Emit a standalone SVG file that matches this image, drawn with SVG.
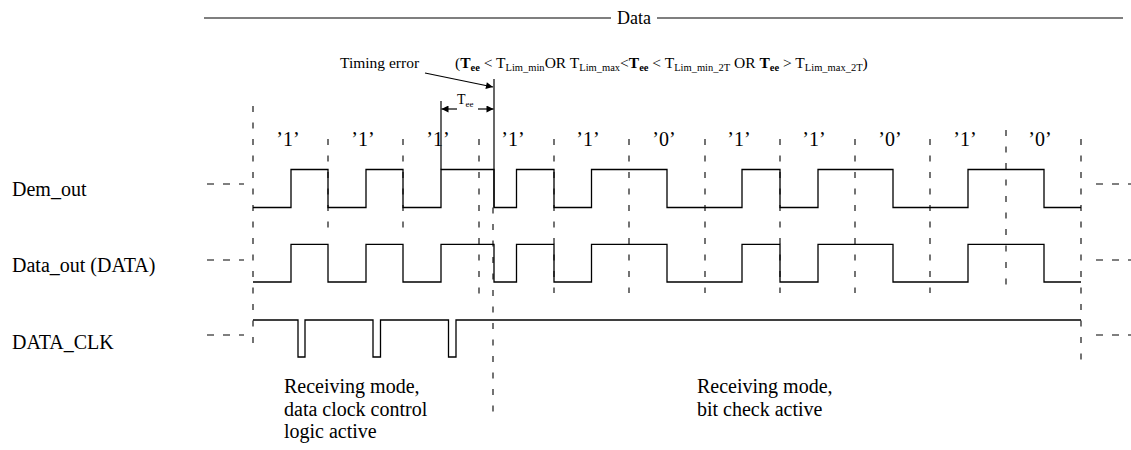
<svg xmlns="http://www.w3.org/2000/svg" width="1131" height="450" viewBox="0 0 1131 450">
<style>
text{font-family:"Liberation Serif","Times New Roman",serif;fill:#000}
.lbl{font-size:20px}
.bit{font-size:20px;text-anchor:middle}
.sm{font-size:15.5px}
.sub{font-size:10.5px}
.wave{fill:none;stroke:#000;stroke-width:1.3}
.solid{fill:none;stroke:#000;stroke-width:1.2}
.vdash{fill:none;stroke:#000;stroke-width:1.1;stroke-dasharray:6 10.5}
.hdash{fill:none;stroke:#000;stroke-width:1.1;stroke-dasharray:7 9}
</style>
<defs>
<marker id="ah" viewBox="0 0 10 10" refX="10" refY="5" markerWidth="9" markerHeight="7" markerUnits="userSpaceOnUse" orient="auto">
<path d="M0,0 L10,5 L0,10 z" fill="#000"/>
</marker>
</defs>
<rect width="1131" height="450" fill="#fff"/>

<g id="data-header">
<line class="solid" x1="204" y1="18" x2="611" y2="18"/>
<text x="634" y="24" text-anchor="middle" style="font-size:18px">Data</text>
<line class="solid" x1="657" y1="18" x2="1123" y2="18"/>
</g>

<g id="timing-error-label">
<text class="sm" x="340" y="68">Timing error</text>
<text class="sm" x="455" y="68">(<tspan font-weight="bold">T</tspan><tspan class="sub" font-weight="bold" dy="3">ee</tspan><tspan dy="-3"> &lt; T</tspan><tspan class="sub" dy="3">Lim_min</tspan><tspan dy="-3">OR T</tspan><tspan class="sub" dy="3">Lim_max</tspan><tspan dy="-3">&lt;</tspan><tspan font-weight="bold">T</tspan><tspan class="sub" font-weight="bold" dy="3">ee</tspan><tspan dy="-3"> &lt; T</tspan><tspan class="sub" dy="3">Lim_min_2T</tspan><tspan dy="-3"> OR </tspan><tspan font-weight="bold">T</tspan><tspan class="sub" font-weight="bold" dy="3">ee</tspan><tspan dy="-3"> &gt; T</tspan><tspan class="sub" dy="3">Lim_max_2T</tspan><tspan dy="-3">)</tspan></text>
</g>

<g id="tee-label">
<text x="457" y="104" style="font-size:14px">T<tspan style="font-size:9px" dy="3">ee</tspan></text>
</g>

<g id="row-labels">
<text class="lbl" x="12" y="196">Dem_out</text>
<text class="lbl" x="12" y="272">Data_out (DATA)</text>
<text class="lbl" x="12" y="349">DATA_CLK</text>
</g>

<g id="bit-labels">
<text class="bit" x="288" y="146">’1’</text>
<text class="bit" x="363" y="146">’1’</text>
<text class="bit" x="438" y="146">’1’</text>
<text class="bit" x="513" y="146">’1’</text>
<text class="bit" x="588" y="146">’1’</text>
<text class="bit" x="664" y="146">’0’</text>
<text class="bit" x="739" y="146">’1’</text>
<text class="bit" x="814" y="146">’1’</text>
<text class="bit" x="890" y="146">’0’</text>
<text class="bit" x="965" y="146">’1’</text>
<text class="bit" x="1040" y="146">’0’</text>
</g>

<g id="bit-boundaries">
<line class="vdash" x1="253" y1="106" x2="253" y2="348"/>
<line class="vdash" x1="328" y1="139" x2="328" y2="234"/>
<line class="vdash" x1="403" y1="139" x2="403" y2="234"/>
<line class="vdash" x1="479" y1="139" x2="479" y2="295"/>
<line class="vdash" x1="493" y1="207.5" x2="493" y2="420"/>
<line class="vdash" x1="554" y1="139" x2="554" y2="293"/>
<line class="vdash" x1="629" y1="139" x2="629" y2="293"/>
<line class="vdash" x1="705" y1="139" x2="705" y2="293"/>
<line class="vdash" x1="780" y1="139" x2="780" y2="293"/>
<line class="vdash" x1="855" y1="139" x2="855" y2="293"/>
<line class="vdash" x1="930" y1="139" x2="930" y2="293"/>
<line class="vdash" x1="1006" y1="130" x2="1006" y2="290"/>
<line class="vdash" x1="1081" y1="139" x2="1081" y2="360"/>
</g>

<g id="stubs">
<line class="hdash" x1="207" y1="184" x2="244" y2="184"/>
<line class="hdash" x1="1096" y1="184" x2="1131" y2="184"/>
<line class="hdash" x1="207" y1="260" x2="244" y2="260"/>
<line class="hdash" x1="1096" y1="260" x2="1131" y2="260"/>
<line class="hdash" x1="207" y1="335" x2="244" y2="335"/>
<line class="hdash" x1="1096" y1="335" x2="1131" y2="335"/>
</g>

<g id="dem-out">
<path class="wave" d="M253,207.5 H291 V169.5 H328 V207.5 H366 V169.5 H403 V207.5 H441 V169.5 H494 V207.5 H516.5 V169.5 H554 V207.5 H591.5 V169.5 H667 V207.5 H742 V169.5 H780 V207.5 H818 V169.5 H893 V207.5 H968 V169.5 H1044 V207.5 H1081"/>
</g>

<g id="data-out">
<path class="wave" d="M253,282 H291 V244.3 H328 V282 H366 V244.3 H403 V282 H441 V244.3 H494 V282 H516.5 V244.3 H554 V282 H591.5 V244.3 H667 V282 H742 V244.3 H780 V282 H818 V244.3 H893 V282 H968 V244.3 H1044 V282 H1081"/>
</g>

<g id="data-clk">
<path class="wave" d="M253,320 H298 V357 H305 V320 H373 V357 H380.5 V320 H448.5 V357 H456 V320 H1081"/>
</g>

<g id="mode-left">
<text class="lbl" x="284" y="393">Receiving mode,</text>
<text class="lbl" x="284" y="416">data clock control</text>
<text class="lbl" x="284" y="438">logic active</text>
</g>

<g id="mode-right">
<text class="lbl" x="697" y="393">Receiving mode,</text>
<text class="lbl" x="697" y="416">bit check active</text>
</g>

<g id="connectors">
<line class="solid" x1="441" y1="101" x2="441" y2="169.5"/>
<line class="solid" x1="494" y1="79" x2="494" y2="207.5"/>
<line class="solid" x1="425" y1="73" x2="493" y2="87" marker-end="url(#ah)"/>
<line class="solid" x1="457" y1="109" x2="441.5" y2="109" marker-end="url(#ah)"/>
<line class="solid" x1="478" y1="109" x2="493.5" y2="109" marker-end="url(#ah)"/>
</g>
</svg>
